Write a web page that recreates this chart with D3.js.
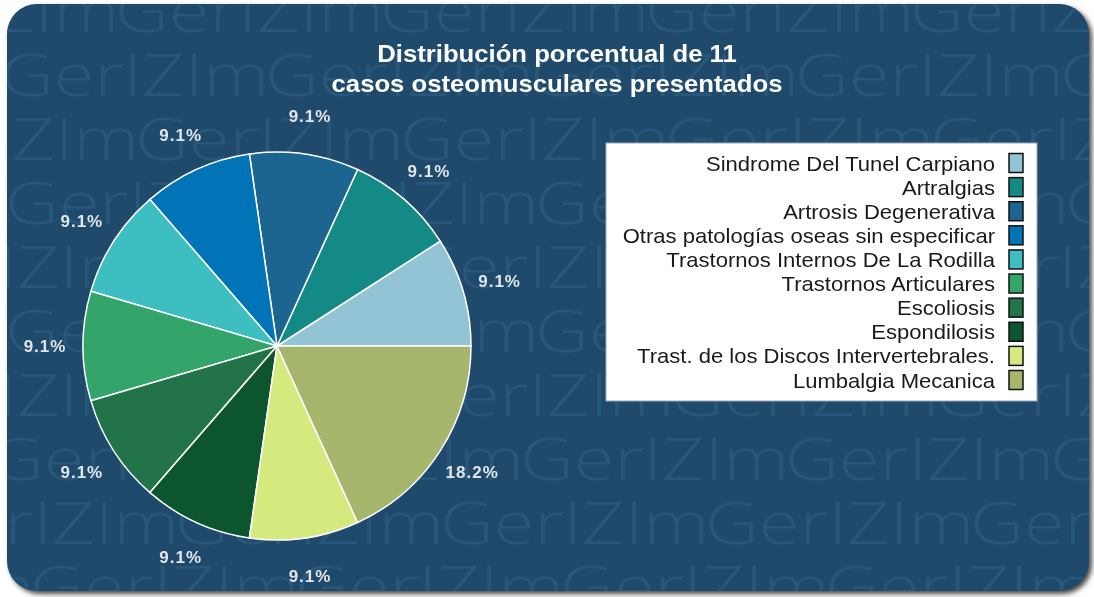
<!DOCTYPE html>
<html>
<head>
<meta charset="utf-8">
<script src="https://cdn.jsdelivr.net/npm/d3@7"></script>
<style>
  html, body { margin: 0; padding: 0; background: #ffffff; }
  #wrap { position: relative; width: 1094px; height: 597px; }
  #bg, #chart { position: absolute; left: 0; top: 0; display: block; }
</style>
</head>
<body>
<div id="wrap">
<canvas id="bg" width="1094" height="597"></canvas>
<svg id="chart" width="1094" height="597"></svg>
</div>
<script>
// ---------------- data ----------------
const titleLines = ["Distribución porcentual de 11", "casos osteomusculares presentados"];
const categories = [
  "Sindrome Del Tunel Carpiano",
  "Artralgias",
  "Artrosis Degenerativa",
  "Otras patologías oseas sin especificar",
  "Trastornos Internos De La Rodilla",
  "Trastornos Articulares",
  "Escoliosis",
  "Espondilosis",
  "Trast. de los Discos Intervertebrales.",
  "Lumbalgia Mecanica"
];
const values = [1, 1, 1, 1, 1, 1, 1, 1, 1, 2];
const colors = [
  "#93c4d5", "#138a85", "#1c6591", "#0174b8", "#3dbfc1",
  "#33a56b", "#227349", "#0c552e", "#d5ea7e", "#a7b66d"
];
const watermarkWord = "GerIZIm";
const watermarkOffsets = [115, 0, 135, 5, 140, 5, 140, -10, 175, 30];

// ---------------- layout ----------------
const W = 1094, H = 597;
const card = { x: 7, y: 4, w: 1082, h: 587, r: 30 };
const cx = 277, cy = 346, R = 194, labelR = 232;

// ---------- background card + watermark (canvas) ----------
const canvas = document.getElementById("bg");
const ctx = canvas.getContext("2d");
function roundRect(c, x, y, w, h, r) {
  c.beginPath();
  c.moveTo(x + r, y);
  c.lineTo(x + w - r, y);
  c.arcTo(x + w, y, x + w, y + r, r);
  c.lineTo(x + w, y + h - r);
  c.arcTo(x + w, y + h, x + w - r, y + h, r);
  c.lineTo(x + r, y + h);
  c.arcTo(x, y + h, x, y + h - r, r);
  c.lineTo(x, y + r);
  c.arcTo(x, y, x + r, y, r);
  c.closePath();
}
function drawBackground() {
  ctx.setTransform(1, 0, 0, 1, 0, 0);
  ctx.clearRect(0, 0, W, H);
  ctx.fillStyle = "#ffffff";
  ctx.fillRect(0, 0, W, H);
  ctx.save();
  ctx.shadowColor = "rgba(40,40,40,0.85)";
  ctx.shadowBlur = 5;
  ctx.shadowOffsetX = 3;
  ctx.shadowOffsetY = 3;
  roundRect(ctx, card.x, card.y, card.w, card.h, card.r);
  ctx.fillStyle = "#1f4a6c";
  ctx.fill();
  ctx.restore();

  ctx.save();
  roundRect(ctx, card.x, card.y, card.w, card.h, card.r);
  ctx.clip();
  ctx.font = "300 58px 'Open Sans', Lato, sans-serif";
  ctx.fillStyle = "#295779";
  ctx.textBaseline = "alphabetic";
  const P = 265;
  const sx = 1.28;
  watermarkOffsets.forEach((off, k) => {
    const y = 32 + 64 * k;
    for (let j = -1; j < 6; j++) {
      ctx.save();
      ctx.translate(off + j * P, y);
      ctx.scale(sx, 1);
      ctx.fillText(watermarkWord, 0, 0);
      ctx.restore();
    }
  });
  ctx.restore();
}
drawBackground();
if (document.fonts && document.fonts.load) {
  document.fonts.load("300 58px 'Open Sans'").then(drawBackground).catch(() => {});
}

// ---------- chart (svg) ----------
const svg = d3.select("#chart");

// title
titleLines.forEach((t, i) => {
  svg.append("g")
    .attr("transform", `translate(557,${62 + i * 30}) scale(1.07,1)`)
    .append("text")
    .attr("text-anchor", "middle")
    .attr("font-family", "'Liberation Sans', Arial, sans-serif")
    .attr("font-weight", "bold").attr("font-size", 24)
    .attr("fill", "#ffffff")
    .text(t);
});

// pie
const total = d3.sum(values);
const data = categories.map((c, i) => ({ name: c, value: values[i], color: colors[i] }));
const pie = d3.pie().sort(null).value(d => d.value)
  .startAngle(Math.PI / 2).endAngle(Math.PI / 2 - 2 * Math.PI);
const arcs = pie(data);
const arc = d3.arc().innerRadius(0).outerRadius(R);
const labelArc = d3.arc().innerRadius(labelR).outerRadius(labelR);
const fmt = d3.format(".1%");

const g = svg.append("g").attr("transform", `translate(${cx},${cy})`);
g.selectAll("path.slice").data(arcs).enter().append("path")
  .attr("class", "slice")
  .attr("d", arc)
  .attr("fill", d => d.data.color)
  .attr("stroke", "#ffffff").attr("stroke-width", 1.5)
  .attr("stroke-linejoin", "round");

g.selectAll("text.lbl").data(arcs).enter().append("text")
  .attr("class", "lbl")
  .attr("transform", d => `translate(${labelArc.centroid(d)})`)
  .attr("text-anchor", "middle").attr("dy", "0.36em")
  .attr("font-family", "'Liberation Sans', Arial, sans-serif")
  .attr("font-weight", "bold").attr("font-size", 17)
  .attr("letter-spacing", 1)
  .attr("fill", "#e2e6ea")
  .text(d => fmt(d.data.value / total));

// legend
const lg = { x: 606, y: 143, w: 431, h: 258 };
svg.append("rect").attr("x", lg.x).attr("y", lg.y).attr("width", lg.w).attr("height", lg.h)
  .attr("fill", "#ffffff").attr("stroke", "#9aa9b8").attr("stroke-width", 1);

const rowY = d3.scalePoint().domain(categories).range([163, 380]);
const items = svg.append("g").selectAll("g").data(data).enter().append("g")
  .attr("transform", d => `translate(0,${rowY(d.name)})`);
items.append("g").attr("transform", "translate(995,0) scale(1.05,1)")
  .append("text")
  .attr("x", 0).attr("y", 0).attr("dy", "0.36em")
  .attr("text-anchor", "end")
  .attr("font-family", "'Liberation Sans', Arial, sans-serif")
  .attr("font-size", 21)
  .attr("fill", "#1a1a1a")
  .text(d => d.name);
items.append("rect")
  .attr("x", 1009).attr("y", -9.5).attr("width", 14).attr("height", 19)
  .attr("fill", d => d.color).attr("stroke", "#111").attr("stroke-width", 1.5);
</script>
</body>
</html>
